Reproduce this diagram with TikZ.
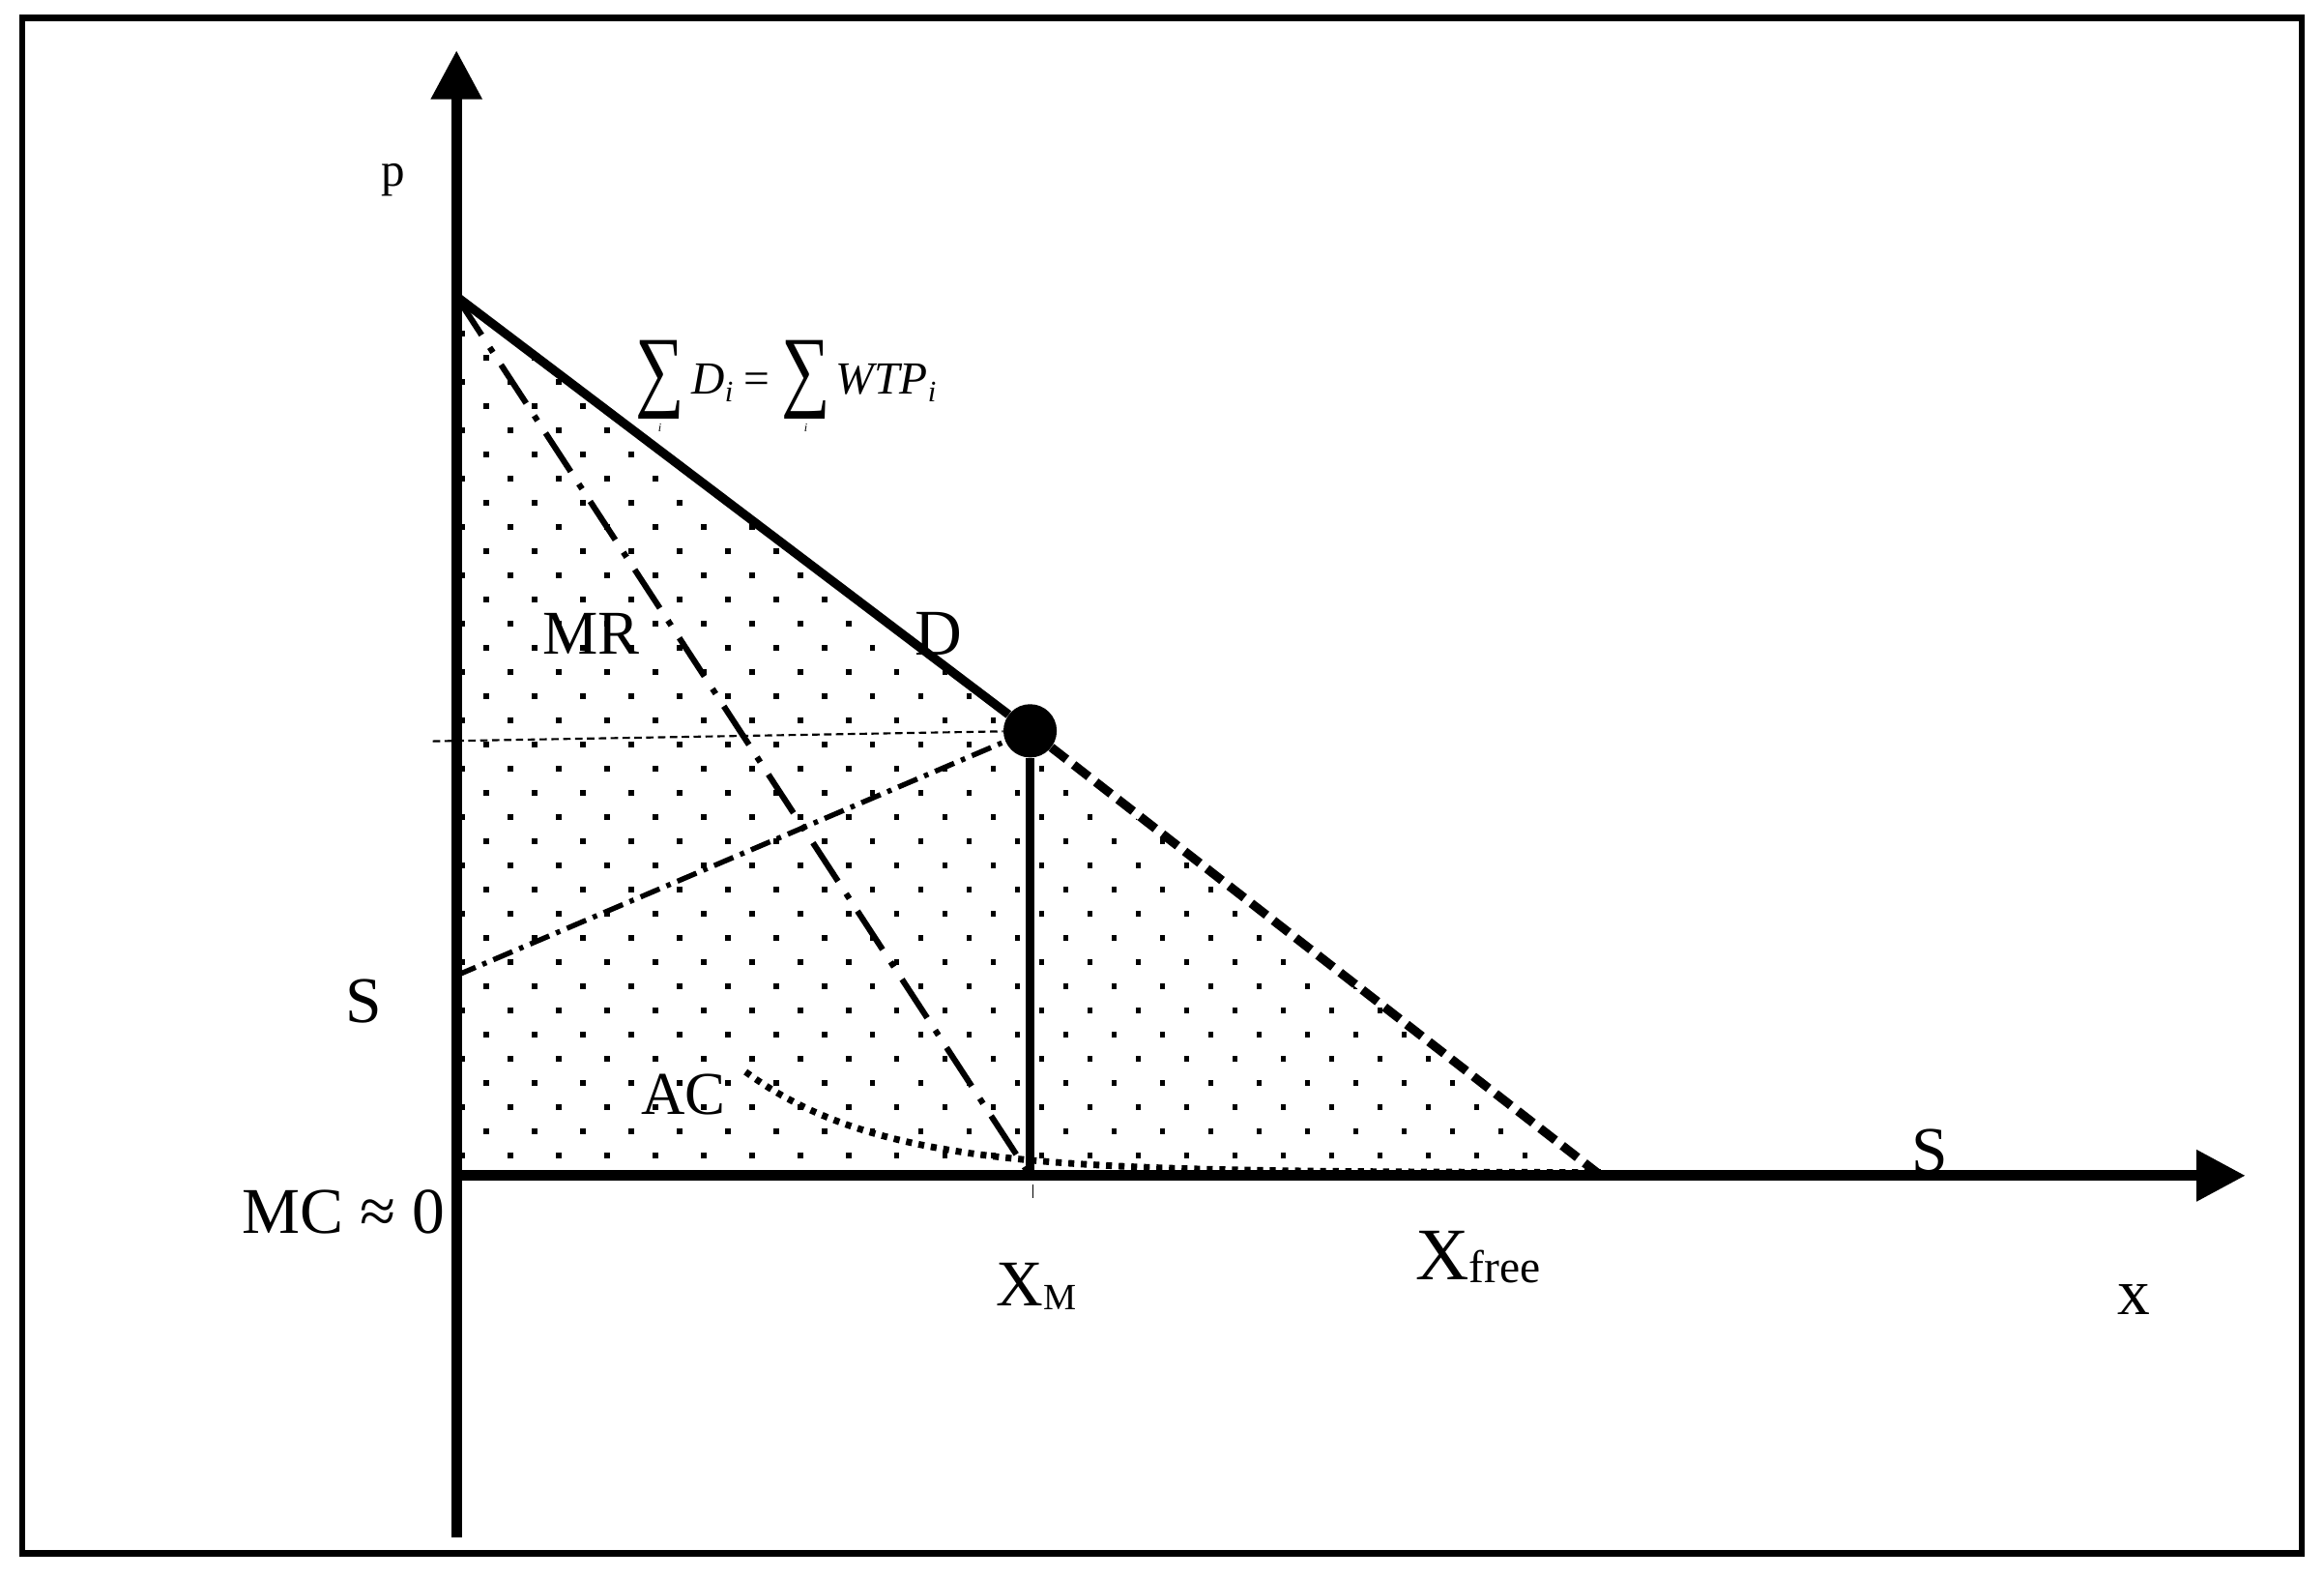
\documentclass[tikz,border=0pt]{standalone}
\usepackage{fontspec}
\setmainfont{Liberation Serif}
\usetikzlibrary{arrows.meta}
\newcommand\tsum{\makebox[33pt][c]{\raisebox{-17pt}[0pt][0pt]{\resizebox*{33pt}{53pt}{\raisebox{\depth}{∑}}}}\llap{\makebox[33pt][c]{\raisebox{-25.5pt}[0pt][0pt]{\fontsize{8}{8}\selectfont\itshape i}}}}
\newcommand\subi{\raisebox{-5.5pt}{\fontsize{20}{20}\selectfont\itshape i}}
\begin{document}
\begin{tikzpicture}[x=1pt,y=-1pt,
  axisline/.style={line width=7pt,-{Triangle[length=33pt,width=33pt]}},
  demand/.style={line width=6pt},
  demdash/.style={line width=6pt,dash pattern=on 13pt off 6pt},
  mrline/.style={line width=4pt,dash pattern=on 31pt off 10pt on 4pt off 10pt},
  pline/.style={line width=1.4pt,dash pattern=on 5pt off 3pt},
  sline/.style={line width=3.5pt,dash pattern=on 14pt off 5pt on 3pt off 5pt},
  acline/.style={line width=4.5pt,dash pattern=on 4pt off 4.5pt},
  supply/.style={line width=4pt,dash pattern=on 12pt off 3pt},
  lab/.style={font=\fontsize{44}{50}\selectfont,inner sep=0pt,anchor=base},
  eqdot/.style={circle,fill=black,inner sep=0pt,minimum size=36pt}]
\useasboundingbox (0,0) rectangle (1568,1065);
\fill[white] (0,0) rectangle (1568,1065);
% frame
\draw[line width=4.5pt] (15,12) rectangle (1553,1048);
% dotted area
\begin{scope}
\clip (308,200) -- (1080,793) -- (308,793) -- cycle;
\foreach \n in {-16,...,22} {
  \pgfmathsetmacro\yy{437+16.3*\n-1.8}
  \pgfmathsetmacro\xo{(mod(abs(\n),2)==0) ? 326.2 : 309.9}
  \foreach \k in {-1,...,24} {
    \fill (\xo+32.6*\k,\yy) rectangle ++(3.6,3.6);
  }
}
\end{scope}
% coordinates
\coordinate (dtop) at (308,200);
\coordinate (xm) at (695,793);
\coordinate (xf) at (1080,793);
\coordinate (pm) at (292,500);
\coordinate (sp) at (308,658);
\coordinate (ybot) at (308,1037);
\coordinate (ytip) at (308,34);
\coordinate (orig) at (308,793);
\coordinate (xtip) at (1515,793);
\node[eqdot] (eq) at (695,493) {};
% supply overlay
\draw[supply] (306.5,650) -- (306.5,791) -- (1430,791);
% axes
\draw[axisline] (ybot) -- (ytip);
\draw[axisline] (orig) -- (xtip);
% curves
\draw[demand] (dtop) -- (eq);
\draw[demdash] (eq) -- (xf);
\draw[demand] (eq) -- (xm);
\draw[line width=1pt] (697,799) -- (697,808);
\draw[mrline] (dtop) -- (xm);
\draw[pline] (pm) -- (eq);
\draw[sline] (sp) -- (eq);
\draw[acline] plot[domain=503:1080,samples=80,smooth] (\x,{791-68*exp(-(\x-503)/92)});
% labels
\node[lab,font=\fontsize{32}{36}\selectfont] (plab) at (265,125.5) {p};
\node[inner sep=0pt,anchor=base west,font=\fontsize{31}{36}\selectfont] (sumlab) at (428.5,265.5)
  {\tsum\hspace{5pt}{\itshape D}\subi\hspace{7pt}=\hspace{8pt}\tsum\hspace{4pt}{\itshape WTP}\subi};
\node[lab,font=\fontsize{42}{48}\selectfont] (mrlab) at (399,441.5) {MR};
\node[lab] (dlab) at (633,442) {D};
\node[lab] (slab1) at (245.5,690) {S};
\node[lab,font=\fontsize{41}{46}\selectfont] (aclab) at (461,752) {AC};
\node[lab] (mclab) at (232,831.7) {MC ≈ 0};
\node[lab] (slab2) at (1302,791) {S};
\node[lab] (xlab) at (1440,887) {x};
\node[inner sep=0pt,anchor=base west,font=\fontsize{44}{50}\selectfont] (xmlab) at (672,880.6) {X\raisebox{-3pt}{\fontsize{25}{30}\selectfont M}};
\node[inner sep=0pt,anchor=base west,font=\fontsize{50}{56}\selectfont] (xflab) at (955,863) {X\raisebox{-2pt}{\fontsize{31}{36}\selectfont free}};
\end{tikzpicture}
\end{document}
